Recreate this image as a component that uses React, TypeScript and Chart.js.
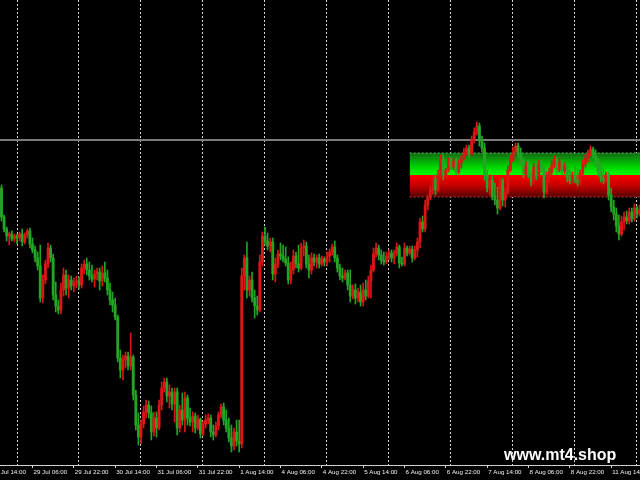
import { useEffect, useRef } from 'react';
import { Chart, registerables } from 'chart.js';

Chart.register(...registerables);

// Hourly bars, index 7 = 29 Jul 00:00 (weekend skipped between 1 Aug and 4 Aug)
const FIRST_BAR = 1;

const OPEN = [
  312, 283, 271, 264, 266, 261, 264, 262, 266, 258,
  265, 269, 256, 250, 242, 234, 202, 220, 236, 252,
  242, 205, 194, 190, 210, 225, 212, 220, 214, 218,
  219, 215, 232, 236, 230, 224, 221, 226, 228, 219,
  227, 222, 210, 200, 195, 183, 142, 130, 140, 144,
  134, 143, 105, 75, 63, 76, 88, 95, 87, 68,
  82, 72, 95, 112, 118, 104, 108, 96, 108, 72,
  90, 80, 102, 82, 78, 84, 72, 81, 66, 76,
  80, 82, 68, 65, 74, 85, 93, 80, 72, 62,
  54, 68, 59, 56, 224, 242, 210, 220, 202, 194,
  190, 238, 264, 259, 254, 258, 226, 236, 246, 244,
  241, 237, 220, 230, 244, 236, 232, 252, 254, 236,
  230, 242, 238, 242, 236, 241, 238, 244, 248, 253,
  242, 232, 224, 222, 227, 215, 204, 210, 202, 208,
  198, 210, 204, 219, 230, 246, 252, 245, 240, 238,
  244, 247, 242, 247, 253, 237, 236, 252, 247, 251,
  242, 250, 258, 278, 271, 295, 302, 310, 321, 310,
  324, 341, 325, 330, 339, 333, 339, 328, 337, 342,
  348, 352, 346, 360, 368, 374, 359, 352, 325, 312,
  320, 304, 300, 292, 320, 300, 308, 330, 340, 348,
  354, 346, 339, 326, 334, 325, 318, 333, 324, 336,
  332, 308, 322, 328, 335, 340, 330, 338, 329, 334,
  322, 319, 325, 320, 317, 327, 336, 342, 347, 351,
  345, 338, 328, 322, 319, 325, 305, 293, 286, 274,
  266, 278, 283, 279, 288, 281, 292, 286,
];

const HIGH = [
  315, 285, 273, 268, 269, 266, 266, 268, 271, 267,
  271, 272, 262, 254, 248, 255, 225, 240, 257, 255,
  246, 218, 200, 217, 232, 230, 225, 224, 222, 224,
  223, 236, 240, 242, 238, 235, 230, 232, 232, 234,
  238, 230, 217, 208, 202, 185, 150, 145, 148, 148,
  167, 145, 110, 87, 80, 94, 100, 99, 94, 88,
  88, 100, 118, 122, 122, 115, 112, 112, 112, 95,
  107, 108, 105, 92, 88, 87, 85, 82, 79, 85,
  86, 85, 75, 78, 88, 96, 97, 90, 82, 75,
  72, 80, 80, 232, 245, 258, 224, 228, 210, 204,
  245, 268, 273, 267, 262, 262, 242, 250, 257, 255,
  253, 243, 238, 250, 248, 255, 257, 260, 258, 245,
  247, 246, 245, 246, 244, 243, 248, 251, 256, 259,
  245, 236, 232, 230, 230, 230, 215, 216, 212, 215,
  217, 220, 224, 235, 252, 257, 255, 250, 248, 248,
  250, 250, 250, 257, 255, 243, 257, 254, 254, 254,
  254, 262, 282, 284, 300, 305, 314, 324, 326, 330,
  345, 345, 332, 342, 343, 342, 342, 340, 344, 352,
  355, 355, 364, 372, 378, 377, 364, 357, 330, 325,
  324, 317, 313, 324, 322, 312, 334, 345, 353, 357,
  357, 352, 342, 338, 340, 330, 337, 337, 340, 340,
  334, 328, 332, 340, 344, 343, 342, 340, 337, 336,
  330, 328, 334, 332, 330, 340, 345, 350, 354, 353,
  350, 342, 337, 332, 328, 328, 312, 300, 292, 285,
  284, 288, 289, 292, 292, 296, 294, 295,
];

const LOW = [
  279, 268, 259, 255, 259, 258, 256, 259, 254, 256,
  262, 252, 247, 238, 230, 198, 197, 216, 232, 238,
  200, 188, 186, 186, 204, 205, 202, 210, 208, 212,
  211, 212, 226, 225, 220, 218, 213, 220, 210, 214,
  218, 205, 195, 188, 180, 138, 122, 120, 132, 130,
  130, 100, 70, 55, 56, 72, 82, 82, 60, 64,
  63, 70, 90, 108, 98, 92, 90, 78, 65, 68,
  75, 68, 75, 74, 68, 67, 70, 62, 64, 72,
  76, 63, 60, 63, 70, 82, 75, 68, 58, 48,
  50, 54, 48, 52, 210, 202, 204, 198, 182, 185,
  188, 234, 255, 250, 248, 220, 218, 232, 240, 238,
  234, 216, 216, 226, 232, 228, 230, 244, 232, 222,
  226, 234, 232, 232, 234, 234, 234, 238, 245, 238,
  228, 220, 218, 220, 210, 198, 201, 196, 198, 194,
  194, 200, 202, 202, 228, 243, 240, 236, 235, 236,
  240, 238, 236, 244, 232, 234, 234, 244, 245, 238,
  240, 243, 252, 268, 268, 290, 300, 306, 305, 308,
  322, 320, 322, 328, 330, 330, 325, 326, 332, 340,
  345, 342, 344, 357, 365, 354, 348, 320, 308, 305,
  300, 295, 286, 290, 294, 293, 306, 328, 338, 345,
  342, 335, 322, 324, 322, 314, 316, 320, 322, 328,
  302, 306, 318, 324, 332, 326, 328, 325, 326, 318,
  316, 316, 317, 314, 315, 325, 333, 338, 344, 342,
  334, 324, 318, 316, 317, 300, 288, 280, 268, 260,
  264, 270, 276, 276, 278, 279, 282, 284,
];

const CLOSE = [
  283, 271, 264, 266, 261, 264, 262, 266, 258, 265,
  269, 256, 250, 242, 234, 202, 220, 236, 252, 242,
  205, 194, 190, 210, 225, 212, 220, 214, 218, 219,
  215, 232, 236, 230, 224, 221, 226, 228, 219, 227,
  222, 210, 200, 195, 183, 142, 130, 140, 144, 134,
  143, 105, 75, 63, 76, 88, 95, 87, 68, 82,
  72, 95, 112, 118, 104, 108, 96, 108, 72, 90,
  80, 102, 82, 78, 84, 72, 81, 66, 76, 80,
  82, 68, 65, 74, 85, 93, 80, 72, 62, 54,
  68, 59, 56, 224, 242, 210, 220, 202, 194, 190,
  238, 264, 259, 254, 258, 226, 236, 246, 244, 241,
  237, 220, 230, 244, 236, 232, 252, 254, 236, 230,
  242, 238, 242, 236, 241, 238, 244, 248, 253, 242,
  232, 224, 222, 227, 215, 204, 210, 202, 208, 198,
  210, 204, 219, 230, 246, 252, 245, 240, 238, 244,
  247, 242, 247, 253, 237, 236, 252, 247, 251, 242,
  250, 258, 278, 271, 295, 302, 310, 321, 310, 324,
  341, 325, 330, 339, 333, 339, 328, 337, 342, 348,
  352, 346, 360, 368, 374, 359, 352, 325, 312, 320,
  304, 300, 292, 320, 300, 308, 330, 340, 348, 354,
  346, 339, 326, 334, 325, 318, 333, 324, 336, 332,
  308, 322, 328, 335, 340, 330, 338, 329, 334, 322,
  319, 325, 320, 317, 327, 336, 342, 347, 351, 345,
  338, 328, 322, 319, 325, 305, 293, 286, 274, 266,
  278, 283, 279, 288, 281, 292, 286, 290,
];

const DAY_STARTS = [7, 31, 55, 79, 103, 127, 151, 175, 199, 223, 247];
const TIME_TICKS = [-3, 13, 29, 45, 61, 77, 93, 109, 125, 141, 157, 173, 189, 205, 221, 237];
const TIME_LABELS = [
  '28 Jul 14:00', '29 Jul 06:00', '29 Jul 22:00', '30 Jul 14:00', '31 Jul 06:00',
  '31 Jul 22:00', '1 Aug 14:00', '4 Aug 06:00', '4 Aug 22:00', '5 Aug 14:00',
  '6 Aug 06:00', '6 Aug 22:00', '7 Aug 14:00', '8 Aug 06:00', '8 Aug 22:00', '11 Aug 14:00',
];

const RESISTANCE_LEVEL = 360;
const ZONE_TOP = 347;
const ZONE_MID = 325;
const ZONE_BOTTOM = 303;
const ZONE_START = 159;
const ZONE_END = 270;

const X_MIN = -15.065;
const X_MAX = 263.65;
const Y_MIN = 35;
const Y_MAX = 500;

const UP_COLOR = '#dc1616';
const DOWN_COLOR = '#24a624';

const gradientFill = (from: number, to: number, stops: [number, string][]) => (ctx: any) => {
  const chart = ctx.chart;
  if (!chart.chartArea) return stops[stops.length - 1][1];
  const ys = chart.scales.y;
  const g = chart.ctx.createLinearGradient(0, ys.getPixelForValue(from), 0, ys.getPixelForValue(to));
  stops.forEach(([p, c]) => g.addColorStop(p, c));
  return g;
};

export default function App() {
  const canvasRef = useRef<HTMLCanvasElement | null>(null);

  useEffect(() => {
    document.body.style.margin = '0';
    document.body.style.background = '#000';
    const canvas = canvasRef.current;
    if (!canvas) return;

    const xs = OPEN.map((_, k) => FIRST_BAR + k);
    const colors = OPEN.map((o, k) => (CLOSE[k] >= o ? UP_COLOR : DOWN_COLOR));

    const chart = new Chart(canvas, {
      type: 'bar',
      data: {
        datasets: [
          {
            type: 'bar',
            label: 'bodies',
            data: xs.map((x, k) => ({ x, y: [OPEN[k], CLOSE[k]] })) as any,
            backgroundColor: colors,
            barThickness: 2.2,
            minBarLength: 1,
            grouped: false,
            borderWidth: 0,
            order: 1,
          } as any,
          {
            type: 'bar',
            label: 'wicks',
            data: xs.map((x, k) => ({ x, y: [LOW[k], HIGH[k]] })) as any,
            backgroundColor: colors,
            barThickness: 1,
            grouped: false,
            borderWidth: 0,
            order: 2,
          } as any,
          {
            type: 'line',
            label: 'zone-top',
            data: [{ x: ZONE_START, y: ZONE_TOP }, { x: ZONE_END, y: ZONE_TOP }],
            borderColor: '#4ccc4c',
            borderWidth: 1,
            borderDash: [2, 2],
            pointRadius: 0,
            fill: { value: ZONE_MID },
            backgroundColor: gradientFill(ZONE_TOP, ZONE_MID, [
              [0, '#146a14'],
              [0.55, '#00c800'],
              [1, '#00ff00'],
            ]),
            order: 8,
          } as any,
          {
            type: 'line',
            label: 'zone-bottom',
            data: [{ x: ZONE_START, y: ZONE_BOTTOM }, { x: ZONE_END, y: ZONE_BOTTOM }],
            borderColor: '#cc3c3c',
            borderWidth: 1,
            borderDash: [2, 2],
            pointRadius: 0,
            fill: { value: ZONE_MID },
            backgroundColor: gradientFill(ZONE_MID, ZONE_BOTTOM, [
              [0, '#ff0000'],
              [0.5, '#c00000'],
              [1, '#580000'],
            ]),
            order: 9,
          } as any,
          {
            type: 'line',
            label: 'level',
            data: [{ x: X_MIN, y: RESISTANCE_LEVEL }, { x: X_MAX, y: RESISTANCE_LEVEL }],
            borderColor: '#7c7c7c',
            borderWidth: 2,
            pointRadius: 0,
            fill: false,
            order: 10,
          } as any,
        ],
      },
      options: {
        responsive: false,
        animation: false,
        events: [],
        layout: { padding: 0 },
        plugins: { legend: { display: false }, tooltip: { enabled: false } },
        scales: {
          x: {
            type: 'linear',
            min: X_MIN,
            max: X_MAX,
            offset: false,
            afterBuildTicks: (scale: any) => {
              scale.ticks = [...DAY_STARTS, ...TIME_TICKS].sort((a, b) => a - b).map((v) => ({ value: v }));
            },
            afterFit: (scale: any) => {
              scale.height = 15;
            },
            grid: {
              offset: false,
              drawOnChartArea: true,
              drawTicks: true,
              tickLength: 3,
              lineWidth: 1,
              color: (c: any) => (c.tick && DAY_STARTS.includes(c.tick.value) ? '#d6d6d6' : 'rgba(0,0,0,0)'),
              tickColor: (c: any) => (c.tick && TIME_TICKS.includes(c.tick.value) ? '#d6d6d6' : 'rgba(0,0,0,0)'),
              tickWidth: 1,
            },
            border: { display: true, color: '#cfcfcf', width: 1, dash: [2, 2] },
            ticks: {
              autoSkip: false,
              maxRotation: 0,
              minRotation: 0,
              align: 'start',
              padding: 1,
              labelOffset: 1,
              color: '#f0f0f0',
              font: { family: '"Liberation Sans", Arial, sans-serif', size: 6.2 },
              callback: (v: any) => {
                const i = TIME_TICKS.indexOf(Number(v));
                return i >= 0 ? TIME_LABELS[i] : '';
              },
            },
          } as any,
          y: {
            type: 'linear',
            min: Y_MIN,
            max: Y_MAX,
            display: false,
          },
        },
      } as any,
    });

    return () => chart.destroy();
  }, []);

  return (
    <div style={{ position: 'fixed', left: 0, top: 0, width: 640, height: 480, background: '#000', overflow: 'hidden' }}>
      <canvas
        ref={canvasRef}
        width={720}
        height={480}
        style={{ position: 'absolute', left: -40, top: 0, width: 720, height: 480, background: '#000' }}
      />
      <div
        style={{
          position: 'absolute',
          left: 504,
          top: 447,
          color: '#ffffff',
          font: 'bold 16px "Liberation Sans", Arial, sans-serif',
          lineHeight: '16px',
          whiteSpace: 'nowrap',
        }}
      >
        www.mt4.shop
      </div>
    </div>
  );
}
